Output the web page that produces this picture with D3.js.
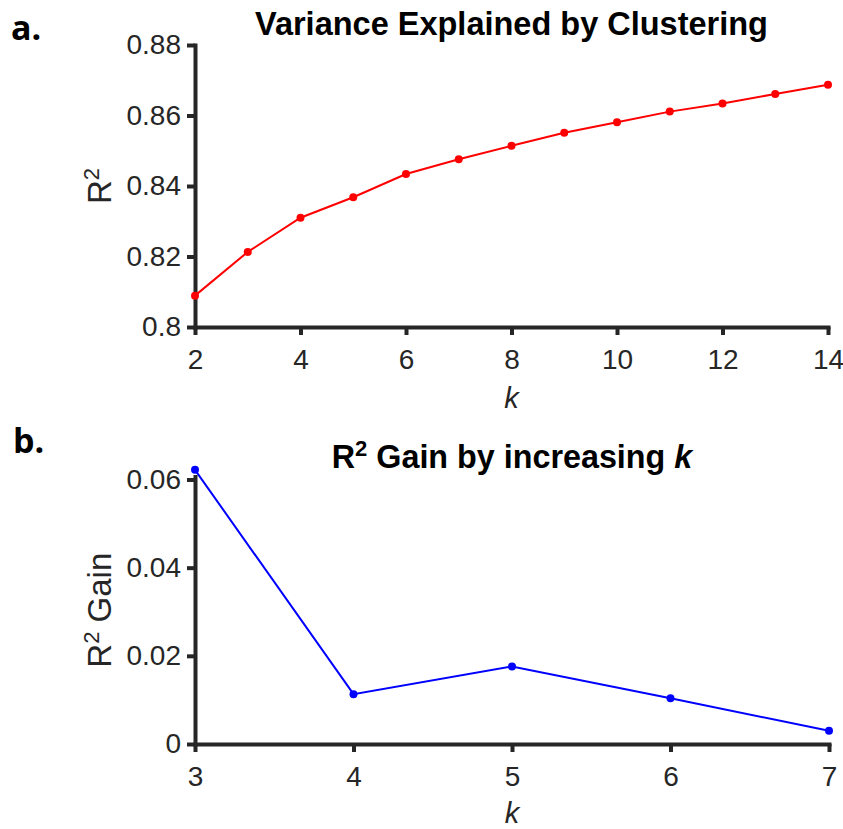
<!DOCTYPE html>
<html>
<head>
<meta charset="utf-8">
<script src="https://cdn.jsdelivr.net/npm/d3@7"></script>
<style>
  html, body { margin: 0; padding: 0; background: #fff; }
  svg { display: block; }
  .tick text { font-family: "Liberation Sans", Arial, Helvetica, sans-serif; font-size: 28px; fill: #262626; }
  .domain, .tick line { stroke: #262626; stroke-width: 4px; }
</style>
</head>
<body>
<script>
// ---- data ----
const kTop = [2, 3, 4, 5, 6, 7, 8, 9, 10, 11, 12, 13, 14];
const r2Top = [0.8089, 0.8213, 0.8310, 0.8368, 0.8434, 0.8476, 0.8514, 0.8551, 0.8581, 0.8611, 0.8634, 0.8661, 0.8687];
const kBottom = [3, 4, 5, 6, 7];
const gainBottom = [0.0622, 0.0113, 0.0176, 0.0104, 0.0030];
const yTicksTop = [0.8, 0.82, 0.84, 0.86, 0.88];
const xTicksTop = [2, 4, 6, 8, 10, 12, 14];
const yTicksBottom = [0, 0.02, 0.04, 0.06];
const xTicksBottom = [3, 4, 5, 6, 7];

const W = 843, H = 829;
const svg = d3.select("body").append("svg").attr("width", W).attr("height", H);
const axisColor = "#262626";
const fontFam = '"Liberation Sans", Arial, Helvetica, sans-serif';

function panel(opts) {
  const x = d3.scaleLinear().domain(opts.xDomain).range([opts.left, opts.right]);
  const y = d3.scaleLinear().domain(opts.yDomain).range([opts.bottom, opts.top]);

  const gx = svg.append("g").attr("transform", `translate(0,${opts.bottom})`)
    .call(d3.axisBottom(x).tickValues(opts.xTicks).tickSize(8).tickSizeOuter(0).tickPadding(14)
      .tickFormat(d3.format("d")));
  const gy = svg.append("g").attr("transform", `translate(${opts.left},0)`)
    .call(d3.axisLeft(y).tickValues(opts.yTicks).tickSize(8).tickSizeOuter(0).tickPadding(6)
      .tickFormat(opts.yFormat));
  [gx, gy].forEach(g => {
    g.select(".domain").attr("stroke", axisColor).attr("stroke-width", 4).attr("stroke-linecap", "square");
    g.selectAll(".tick line").attr("stroke", axisColor).attr("stroke-width", 4);
  });

  const data = opts.xs.map((d, i) => [d, opts.ys[i]]);
  svg.append("path").datum(data)
    .attr("fill", "none").attr("stroke", opts.color).attr("stroke-width", 2)
    .attr("d", d3.line().x(d => x(d[0])).y(d => y(d[1])));
  svg.append("g").selectAll("circle").data(data).join("circle")
    .attr("cx", d => x(d[0])).attr("cy", d => y(d[1])).attr("r", 4)
    .attr("fill", opts.color);

  svg.append("text").attr("x", (opts.left + opts.right) / 2).attr("y", opts.bottom + opts.xlabelOff)
    .attr("text-anchor", "middle").attr("font-family", fontFam).attr("font-size", 29)
    .attr("font-style", "italic").attr("fill", axisColor).text("k");

  const yl = svg.append("text")
    .attr("transform", `translate(${opts.ylabelX},${(opts.top + opts.bottom) / 2}) rotate(-90)`)
    .attr("text-anchor", "middle").attr("font-family", fontFam).attr("font-size", 33)
    .attr("fill", axisColor);
  yl.append("tspan").text("R");
  yl.append("tspan").attr("font-size", 22).attr("dy", "-0.55em").text("2");
  if (opts.ylabelRest) yl.append("tspan").attr("dy", "0.36em").text(opts.ylabelRest);

  return { x, y };
}

panel({
  xDomain: [2, 14], yDomain: [0.8, 0.88],
  left: 195, right: 828, top: 45, bottom: 327,
  xTicks: xTicksTop, yTicks: yTicksTop,
  yFormat: d => d === 0.8 ? "0.8" : d3.format(".2f")(d),
  xs: kTop, ys: r2Top, color: "#ff0000",
  ylabelX: 111, ylabelRest: null, xlabelOff: 81
});

panel({
  xDomain: [3, 7], yDomain: [0, 0.0607],
  left: 195, right: 829, top: 744 - 0.0607 * (264.5 / 0.06), bottom: 744,
  xTicks: xTicksBottom, yTicks: yTicksBottom,
  yFormat: d => d === 0 ? "0" : d3.format(".2f")(d),
  xs: kBottom, ys: gainBottom, color: "#0000ff",
  ylabelX: 111, ylabelRest: " Gain", xlabelOff: 79
});

svg.append("text").attr("x", 511.5).attr("y", 35).attr("text-anchor", "middle")
  .attr("font-family", fontFam).attr("font-weight", "bold").attr("font-size", 32.5)
  .attr("fill", "#000").text("Variance Explained by Clustering");

const t2 = svg.append("text").attr("x", 512).attr("y", 468).attr("text-anchor", "middle")
  .attr("font-family", fontFam).attr("font-weight", "bold").attr("font-size", 32.3).attr("fill", "#000");
t2.append("tspan").text("R");
t2.append("tspan").attr("font-size", 22).attr("dy", "-0.55em").text("2");
t2.append("tspan").attr("dy", "0.38em").text(" Gain by increasing ");
t2.append("tspan").attr("font-style", "italic").text("k");

svg.append("text").attr("x", 11).attr("y", 40).attr("font-family", '"Open Sans", sans-serif')
  .attr("font-weight", "bold").attr("font-size", 34).attr("fill", "#000").text("a.");
svg.append("text").attr("x", 13).attr("y", 453).attr("font-family", '"Open Sans", sans-serif')
  .attr("font-weight", "bold").attr("font-size", 34).attr("fill", "#000").text("b.");
</script>
</body>
</html>
